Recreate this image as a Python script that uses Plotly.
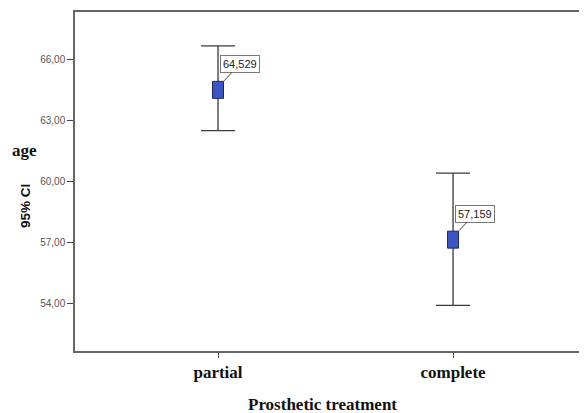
import plotly.graph_objects as go

categories = ["partial", "complete"]
means = [64.529, 57.159]
ci_upper = [66.69, 60.43]
ci_lower = [62.52, 53.92]
mean_labels = ["64,529", "57,159"]
ytick_vals = [54, 57, 60, 63, 66]
ytick_text = ["54,00", "57,00", "60,00", "63,00", "66,00"]

xpos = list(range(len(categories)))

# page has an 8px body margin; figure drawn from (8, 8)
OFF = 8
W, H = 587 - OFF, 413 - OFF
L, R, T, B = 75 - OFF, 0, 12 - OFF, H - (351 - OFF)
pw, ph = W - L - R, H - T - B

fig = go.Figure()
fig.add_trace(go.Scatter(
    x=xpos, y=means, mode="markers",
    marker=dict(size=1, color="rgba(0,0,0,0)"),
    error_y=dict(type="data", symmetric=False,
                 array=[u - m for u, m in zip(ci_upper, means)],
                 arrayminus=[m - l for l, m in zip(ci_lower, means)],
                 color="#3a3a3a", thickness=1.3, width=17),
    showlegend=False, hoverinfo="skip",
))

shapes = []
annotations = []
for i, m in enumerate(means):
    shapes.append(dict(type="rect", xref="x", yref="y", xsizemode="pixel", ysizemode="pixel",
                       xanchor=xpos[i], yanchor=m, x0=-5.5, x1=5.5, y0=-8.5, y1=8.5,
                       fillcolor="#3c55c0", line=dict(color="#1e2a5e", width=1), layer="above"))
    annotations.append(dict(x=xpos[i], y=m, xref="x", yref="y", text=mean_labels[i],
                            showarrow=True, arrowhead=0, arrowwidth=1, arrowcolor="#444",
                            xshift=6, yshift=9, ax=16, ay=-17,
                            bgcolor="white", bordercolor="#777", borderwidth=1, borderpad=2,
                            font=dict(family="Liberation Sans, Arial", size=11, color="#222")))

page_texts = [
    (24, 150, "<b>age</b>", "Liberation Serif, Times New Roman", 17, 0),
    (25, 206, "<b>95% CI</b>", "Liberation Sans, Arial", 13.5, -90),
    (322, 404, "<b>Prosthetic treatment</b>", "Liberation Serif, Times New Roman", 17, 0),
]
for px, py, txt, fam, sz, ang in page_texts:
    annotations.append(dict(
        x=(px - OFF - L) / pw, y=1 - (py - OFF - T) / ph, xref="paper", yref="paper",
        text=txt, showarrow=False, textangle=ang, xanchor="center", yanchor="middle",
        font=dict(family=fam, size=sz, color="#111")))

fig.update_layout(
    width=W, height=H,
    margin=dict(l=L, r=R, t=T, b=B, pad=0),
    paper_bgcolor="white", plot_bgcolor="white",
    shapes=shapes, annotations=annotations,
    xaxis=dict(range=[-0.6085, 1.570], tickvals=xpos, ticktext=["<b>%s</b>" % c for c in categories],
               showline=True, linecolor="#666", linewidth=1.5, mirror=True,
               ticks="outside", ticklen=5, tickcolor="#444", showgrid=False, zeroline=False,
               tickfont=dict(family="Liberation Serif, Times New Roman", size=17, color="#111")),
    yaxis=dict(range=[51.68, 68.36], tickvals=ytick_vals, ticktext=ytick_text,
               showline=True, linecolor="#666", linewidth=1.5, mirror=False,
               ticks="outside", ticklen=6, tickcolor="#444", showgrid=False, zeroline=False,
               tickfont=dict(family="Liberation Sans, Arial", size=10, color="#555")),
)

fig.write_html("out.html")
